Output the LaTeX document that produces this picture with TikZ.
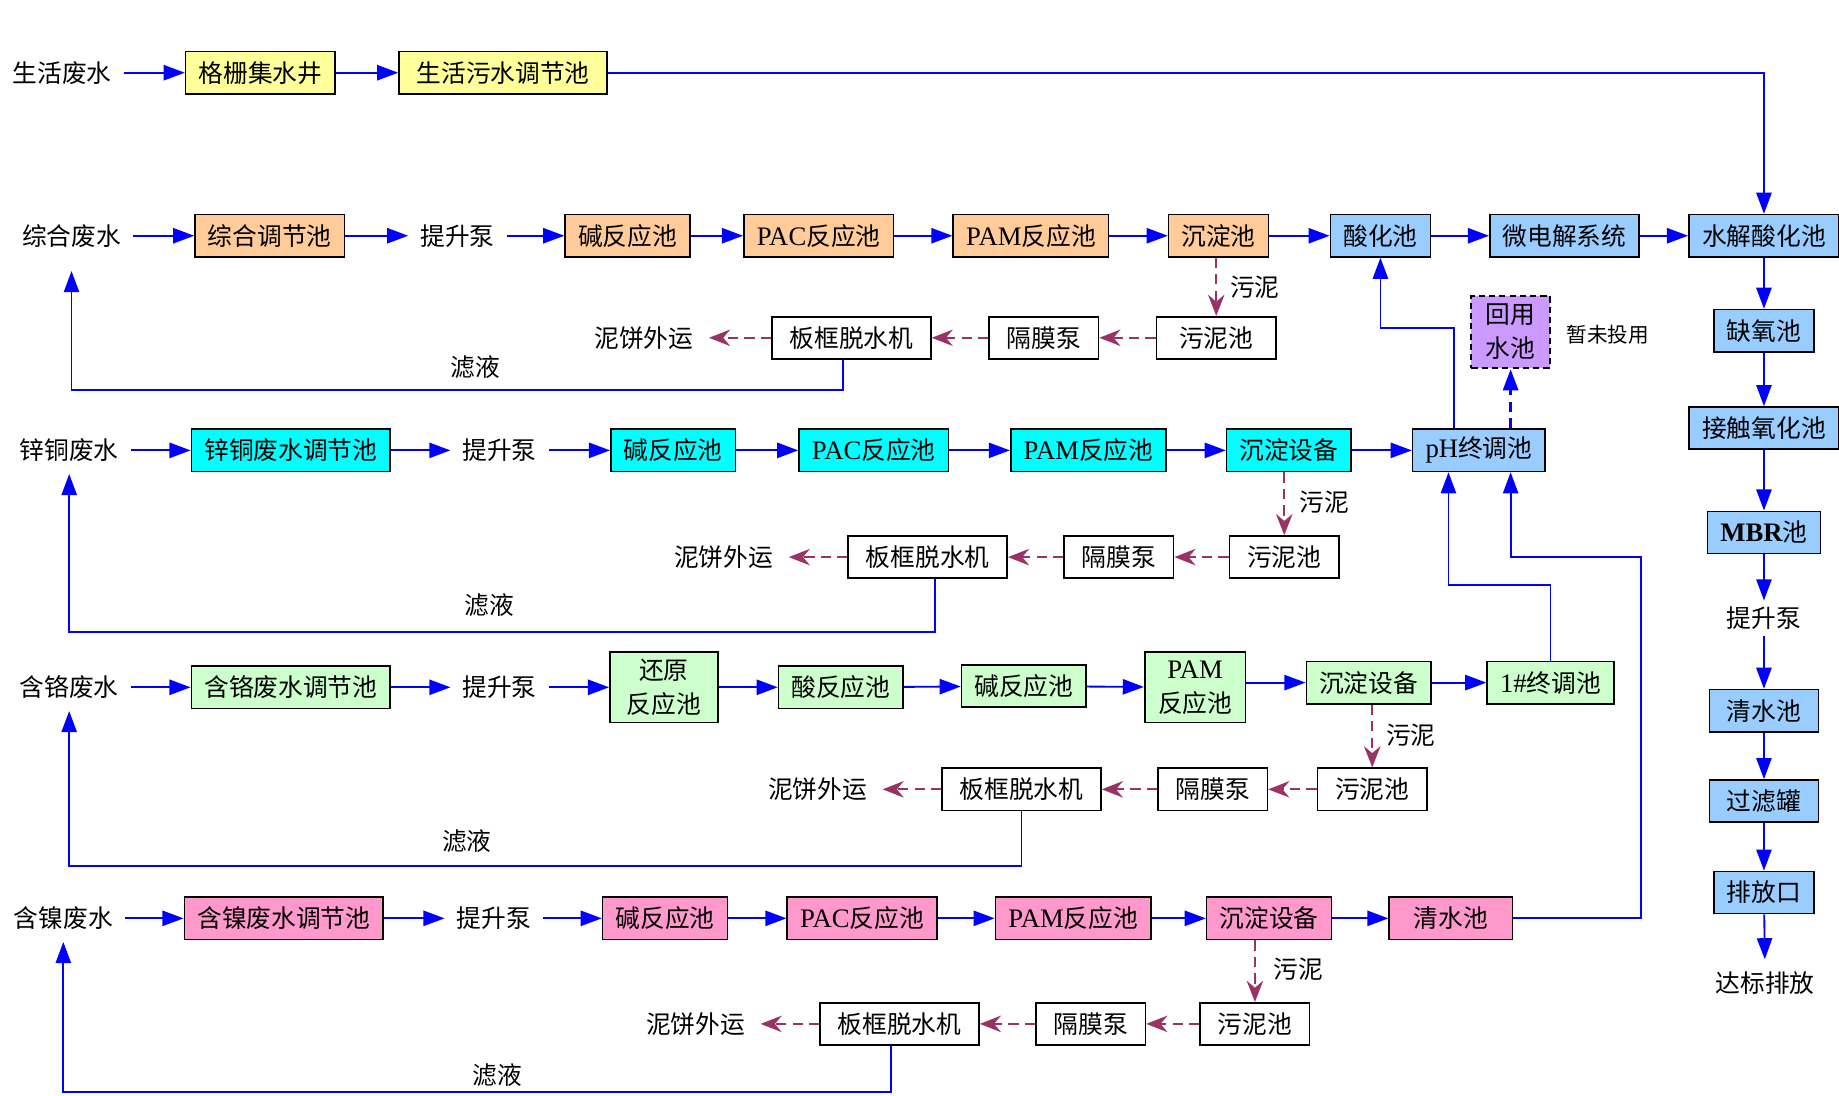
\documentclass[tikz,border=0pt]{standalone}
\usepackage{fontspec}
\setmainfont{Noto Sans CJK SC}
\newfontfamily\lat[Scale=1.08]{Liberation Serif}
\usetikzlibrary{arrows.meta}
\definecolor{flowblue}{HTML}{0000FF}
\definecolor{mudred}{HTML}{993366}
\definecolor{yel}{HTML}{FFFF99}
\definecolor{ora}{HTML}{FFCC99}
\definecolor{cya}{HTML}{00FFFF}
\definecolor{gre}{HTML}{CCFFCC}
\definecolor{pin}{HTML}{FF99CC}
\definecolor{blu}{HTML}{99CCFF}
\definecolor{pur}{HTML}{CC99FF}
\begin{document}
\begin{tikzpicture}[x=0.02cm,y=-0.02cm,font=\fontsize{12}{16.5}\selectfont]
  \tikzstyle{tank}=[draw,line width=0.8pt,minimum height=0.72cm,inner xsep=0.22cm,inner ysep=0pt,align=center]
  \tikzstyle{mbox}=[tank,fill=white,inner xsep=0.3cm]
  \tikzstyle{txt}=[inner xsep=0.2cm,inner ysep=0.2cm]
  \tikzstyle{flow}=[flowblue,line width=0.9pt,-{Triangle[length=0.36cm,width=0.26cm]}]
  \tikzstyle{mud}=[mudred,line width=1.1pt,dash pattern=on 5pt off 3pt,-{Stealth[length=0.36cm,width=0.28cm]}]
  \useasboundingbox (0,0) rectangle (1568,934);
  % 生活废水
  \node[txt] (s1) at (53,62) {生活废水};
  \node[tank,fill=yel] (g1) at (222,62) {格栅集水井};
  \node[tank,fill=yel,inner xsep=0.3cm] (t1) at (429,62) {生活污水调节池};
  % 综合废水
  \node[txt,inner ysep=0.4cm] (s2) at (61,201) {综合废水};
  \node[tank,fill=ora] (eq2) at (230,201) {综合调节池};
  \node[txt] (pu2) at (390,201) {提升泵};
  \node[tank,fill=ora] (al2) at (535,201) {碱反应池};
  \node[tank,fill=ora] (pac2) at (698,201) {{\lat PAC}反应池};
  \node[tank,fill=ora] (pam2) at (879,201) {{\lat PAM}反应池};
  \node[tank,fill=ora] (sed2) at (1039,201) {沉淀池};
  \node[tank,fill=blu] (acid2) at (1177,201) {酸化池};
  \node[tank,fill=blu] (me2) at (1334,201) {微电解系统};
  \node[tank,fill=blu,minimum width=2.56cm] (hy) at (1504,201) {水解酸化池};
  \node[mbox,minimum width=2.04cm] (mp2) at (1037,288) {污泥池};
  \node[mbox] (dp2) at (890,288) {隔膜泵};
  \node[mbox] (fp2) at (726,288) {板框脱水机};
  \node[txt,inner xsep=0.26cm] (cake2) at (549,288) {泥饼外运};
  \node (m2) at (1070,245) {污泥};
  \node (f2) at (405,313) {滤液};
  % 后段生化处理
  \node[tank,fill=blu] (an) at (1504,282) {缺氧池};
  \node[tank,fill=blu] (co) at (1504,365) {接触氧化池};
  \node[tank,fill=blu,minimum width=1.86cm] (mbr) at (1504,454) {{\lat\bfseries MBR}池};
  \node[inner sep=0.1cm] (puR) at (1504,527) {提升泵};
  \node[tank,fill=blu,minimum width=1.86cm] (cw) at (1504,606) {清水池};
  \node[tank,fill=blu,minimum width=1.86cm] (fil) at (1504,683) {过滤罐};
  \node[tank,fill=blu] (out) at (1504,761) {排放口};
  \node[txt] (dis) at (1505,838) {达标排放};
  % 锌铜废水
  \node[txt] (s3) at (59,384) {锌铜废水};
  \node[tank,fill=cya] (eq3) at (248,384) {锌铜废水调节池};
  \node[txt] (pu3) at (426,384) {提升泵};
  \node[tank,fill=cya] (al3) at (574,384) {碱反应池};
  \node[tank,fill=cya] (pac3) at (745,384) {{\lat PAC}反应池};
  \node[tank,fill=cya] (pam3) at (928,384) {{\lat PAM}反应池};
  \node[tank,fill=cya] (sed3) at (1099,384) {沉淀设备};
  \node[tank,fill=blu] (ph) at (1261,384) {{\lat pH}终调池};
  \node[tank,fill=pur,line width=1pt,dash pattern=on 3pt off 2pt,minimum width=1.34cm,minimum height=1.24cm,inner xsep=0.1cm] (ru) at (1288,283) {回用\\水池};
  \node[font=\fontsize{10}{12}\selectfont] (note) at (1371,285) {暂未投用};
  \node[mbox] (mp3) at (1095,475) {污泥池};
  \node[mbox] (dp3) at (954,475) {隔膜泵};
  \node[mbox] (fp3) at (791,475) {板框脱水机};
  \node[txt,inner xsep=0.26cm] (cake3) at (617,475) {泥饼外运};
  \node (m3) at (1129,428) {污泥};
  \node (f3) at (417,516) {滤液};
  % 含铬废水
  \node[txt] (s4) at (59,586) {含铬废水};
  \node[tank,fill=gre] (eq4) at (248,586) {含铬废水调节池};
  \node[txt] (pu4) at (426,586) {提升泵};
  \node[tank,fill=gre,minimum width=1.84cm,minimum height=1.2cm] (red4) at (566,586) {还原\\反应池};
  \node[tank,fill=gre] (ac4) at (717,586) {酸反应池};
  \node[tank,fill=gre] (al4) at (873,585) {碱反应池};
  \node[tank,fill=gre,minimum width=1.72cm,minimum height=1.2cm] (pam4) at (1019,586) {{\lat PAM}\\反应池};
  \node[tank,fill=gre] (sed4) at (1167,582) {沉淀设备};
  \node[tank,fill=gre] (fin4) at (1322,582) {{\lat 1\#}终调池};
  \node[mbox] (mp4) at (1170,673) {污泥池};
  \node[mbox] (dp4) at (1034,673) {隔膜泵};
  \node[mbox] (fp4) at (871,673) {板框脱水机};
  \node[txt,inner xsep=0.26cm] (cake4) at (697,673) {泥饼外运};
  \node (m4) at (1203,627) {污泥};
  \node (f4) at (398,717) {滤液};
  % 含镍废水
  \node[txt] (s5) at (54,783) {含镍废水};
  \node[tank,fill=pin] (eq5) at (242,783) {含镍废水调节池};
  \node[txt] (pu5) at (421,783) {提升泵};
  \node[tank,fill=pin] (al5) at (567,783) {碱反应池};
  \node[tank,fill=pin] (pac5) at (735,783) {{\lat PAC}反应池};
  \node[tank,fill=pin] (pam5) at (915,783) {{\lat PAM}反应池};
  \node[tank,fill=pin] (sed5) at (1082,783) {沉淀设备};
  \node[tank,fill=pin,minimum width=2.1cm] (cw5) at (1237,783) {清水池};
  \node[mbox] (mp5) at (1070,873) {污泥池};
  \node[mbox] (dp5) at (930,873) {隔膜泵};
  \node[mbox] (fp5) at (767,873) {板框脱水机};
  \node[txt,inner xsep=0.26cm] (cake5) at (593,873) {泥饼外运};
  \node (m5) at (1107,826) {污泥};
  \node (f5) at (424,917) {滤液};
  % 水流
  \foreach \a/\b in {s1/g1,g1/t1,s2/eq2,eq2/pu2,pu2/al2,al2/pac2,pac2/pam2,pam2/sed2,sed2/acid2,acid2/me2,me2/hy,
      hy/an,an/co,co/mbr,mbr/puR,puR/cw,cw/fil,fil/out,out/dis,
      s3/eq3,eq3/pu3,pu3/al3,al3/pac3,pac3/pam3,pam3/sed3,sed3/ph,
      s4/eq4,eq4/pu4,pu4/red4,red4/ac4,ac4/al4,al4/pam4,sed4/fin4,
      s5/eq5,eq5/pu5,pu5/al5,al5/pac5,pac5/pam5,pam5/sed5,sed5/cw5}
    \draw[flow] (\a) -- (\b);
  \draw[flow] (pam4.east |- sed4) -- (sed4);
  \draw[flow] (t1.east) -| (hy.north);
  % 污泥
  \foreach \n in {2,3,4,5}{
    \draw[mud] (sed\n.south -| mp\n) -- (mp\n);
    \draw[mud] (mp\n) -- (dp\n);
    \draw[mud] (dp\n) -- (fp\n);
    \draw[mud] (fp\n) -- (cake\n);
  }
  % 滤液回流
  \draw[flow] ([xshift=-0.14cm]fp2.south) -- ++(0,26) -| (s2.south);
  \draw[flow] ([xshift=0.12cm]fp3.south) -- ++(0,45) -| (s3.south);
  \draw[flow] (fp4.south) -- ++(0,47) -| (s4.south);
  \draw[flow] ([xshift=-0.14cm]fp5.south) -- ++(0,39) -| (s5.south);
  % pH终调池
  \coordinate (k1) at (1240,280);
  \draw[flow] (ph.north -| k1) -- (k1) -| (acid2.south);
  \draw[flow,line width=1.2pt,dash pattern=on 5pt off 3pt] (ph.north -| ru) -- (ru.south);
  \coordinate (k2) at (1235,499);
  \draw[flow] (fin4.north) |- (k2) -- (ph.south -| k2);
  \coordinate (k3) at (1399,475);
  \draw[flow] (cw5.east) -| (k3) -| (ph.south -| ru);
\end{tikzpicture}
\end{document}
